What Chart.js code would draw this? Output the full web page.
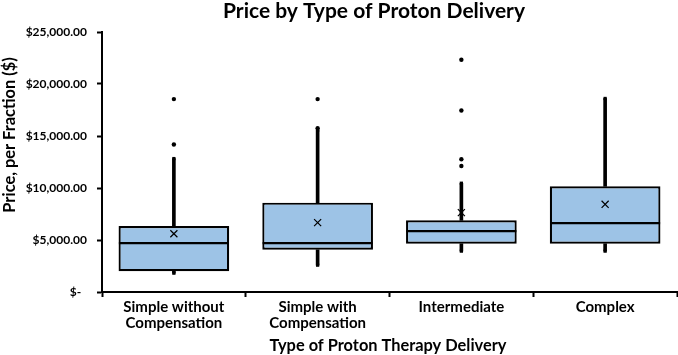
<!DOCTYPE html>
<html><head><meta charset="utf-8">
<script src="https://cdn.jsdelivr.net/npm/chart.js@4.4.0/dist/chart.umd.min.js"></script>
<style>html,body{margin:0;padding:0;background:#fff;}#wrap{width:678px;height:355px;position:relative;}</style>
</head><body><div id="wrap"><canvas id="c" width="678" height="355"></canvas></div>
<script>
const chartTitle = 'Price by Type of Proton Delivery';
const xTitle = 'Type of Proton Therapy Delivery';
const yTitle = 'Price, per Fraction ($)';
const categories = ['Simple without Compensation', 'Simple with Compensation', 'Intermediate', 'Complex'];
const categoryTickLines = [['Simple without', 'Compensation'], ['Simple with', 'Compensation'], 'Intermediate', 'Complex'];
const whiskerMin = [1810, 2580, 3930, 3930];
const quartile1 = [2000, 4060, 4640, 4640];
const medians = [4700, 4700, 5860, 6630];
const quartile3 = [6340, 8590, 6890, 10160];
const whiskerMax = [12830, 15560, 10460, 18610];
const means = [5600, 6670, 7630, 8430];
const outliers = [[14180, 18550], [15750, 18550], [12120, 12770, 17450, 22330], []];
const yTickLabels = ['$-  ', '$5,000.00', '$10,000.00', '$15,000.00', '$20,000.00', '$25,000.00'];

const FONT = 'Lato, "Open Sans", sans-serif';
const outlierPoints = [];
outliers.forEach((arr, i) => arr.forEach(v => outlierPoints.push({x: categories[i], y: v})));

const titlePlugin = {
  id: 'titles',
  afterDraw(chart) {
    const ctx = chart.ctx;
    ctx.save();
    ctx.fillStyle = '#000';
    ctx.textAlign = 'center';
    ctx.textBaseline = 'middle';
    ctx.font = 'bold 21px ' + FONT;
    ctx.fillText(chartTitle, 374, 11);
    ctx.font = 'bold 16.4px ' + FONT;
    ctx.fillText(xTitle, 388, 346);
    ctx.translate(10, 135);
    ctx.rotate(-Math.PI / 2);
    ctx.fillText(yTitle, 0, 0);
    ctx.restore();
  }
};

new Chart(document.getElementById('c'), {
  data: {
    labels: categories,
    datasets: [
      { type: 'line', label: 'Outliers', data: outlierPoints, showLine: false, pointStyle: 'circle', pointRadius: 2.2, pointBackgroundColor: '#000', pointBorderWidth: 0, order: 1 },
      { type: 'line', label: 'Mean', data: means, showLine: false, pointStyle: 'crossRot', pointRadius: 5, pointBorderColor: '#000', pointBorderWidth: 1.2, order: 2 },
      { type: 'line', label: 'Median', data: medians, showLine: false, pointStyle: 'line', pointRadius: 55, pointBorderColor: '#000', pointBorderWidth: 2.2, order: 3 },
      { type: 'line', label: 'Min', data: whiskerMin, showLine: false, pointStyle: 'rect', pointRadius: 2.3, pointBackgroundColor: '#000', pointBorderWidth: 0, order: 4 },
      { type: 'line', label: 'Max', data: whiskerMax, showLine: false, pointStyle: 'rect', pointRadius: 2.3, pointBackgroundColor: '#000', pointBorderWidth: 0, order: 4 },
      { type: 'bar', label: 'Box', data: quartile1.map((q, i) => [q, quartile3[i]]), backgroundColor: '#9DC3E6', borderColor: '#000', borderWidth: 2.2, borderSkipped: false, barPercentage: 0.77, categoryPercentage: 1, grouped: false, order: 5 },
      { type: 'bar', label: 'Lower whisker', data: quartile1.map((q, i) => [whiskerMin[i], q]), backgroundColor: '#000', borderWidth: 0, barThickness: 3, grouped: false, order: 6 },
      { type: 'bar', label: 'Upper whisker', data: quartile3.map((q, i) => [q, whiskerMax[i]]), backgroundColor: '#000', borderWidth: 0, barThickness: 3, grouped: false, order: 6 }
    ]
  },
  options: {
    responsive: false,
    animation: false,
    layout: { autoPadding: false, padding: { top: 32, right: 1, left: 0, bottom: 0 } },
    plugins: { legend: { display: false }, tooltip: { enabled: false }, title: { display: false } },
    scales: {
      x: {
        type: 'category', offset: true,
        grid: { offset: true, drawOnChartArea: false, drawTicks: true, tickLength: 5, tickColor: '#000', tickWidth: 2 },
        border: { display: true, color: '#000', width: 2 },
        ticks: { color: '#000', font: { family: FONT, size: 15, weight: 'bold', lineHeight: 1.07 }, padding: 2, maxRotation: 0, autoSkip: false,
          callback: (v, i) => categoryTickLines[i] },
        afterFit(s) { s.height = 63; }
      },
      y: {
        min: 0, max: 25000,
        grid: { drawOnChartArea: false, tickLength: 5, tickColor: '#000', tickWidth: 2 },
        border: { display: true, color: '#000', width: 2 },
        ticks: { stepSize: 5000, color: '#000', font: { family: FONT, size: 12, weight: 'bold' }, padding: 10,
          callback: (v, i) => yTickLabels[i] },
        afterFit(s) { s.width = 102; }
      }
    }
  },
  plugins: [titlePlugin]
});
</script></body></html>
